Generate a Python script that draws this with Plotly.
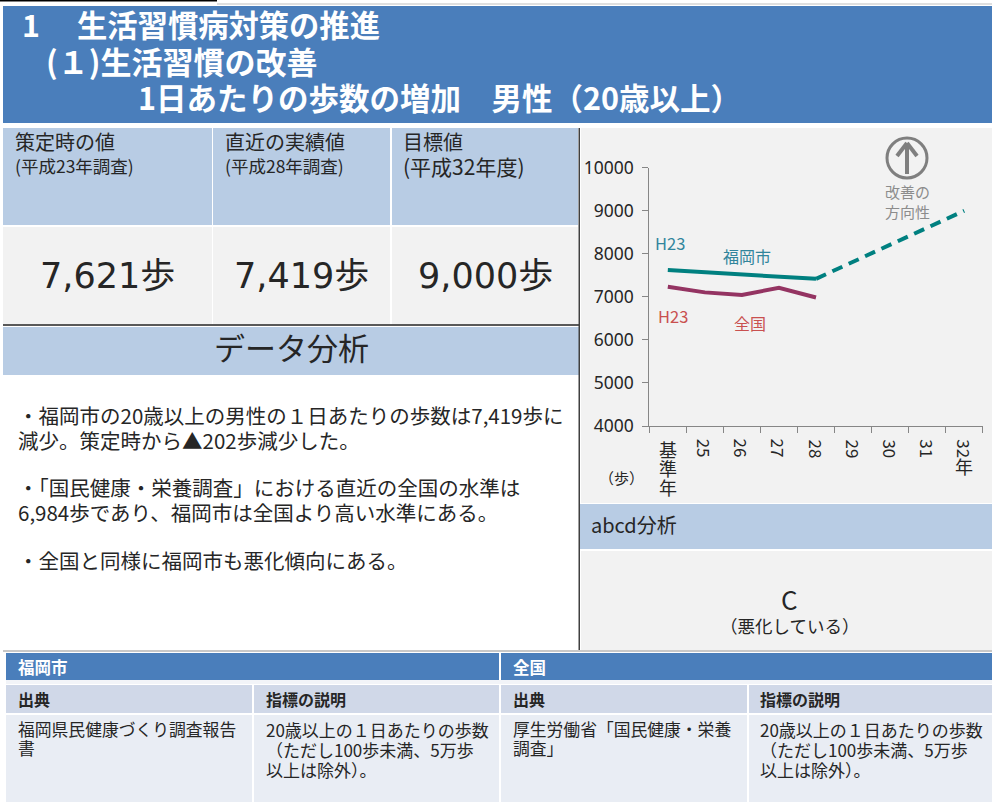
import plotly.graph_objects as go

W, H = 992, 802
categories = ["基準年", "25", "26", "27", "28", "29", "30", "31", "32"]
fukuoka_actual = [7621, None, None, None, 7419]
fukuoka_target_x = ["28", "32"]
fukuoka_target = [7419, 9000]
national = [7235, 7104, 7042, 7212, 6984]
y_ticks = [4000, 5000, 6000, 7000, 8000, 9000, 10000]

JP = "Noto Sans CJK JP, Noto Sans, sans-serif"
BLUE = "#4A7EBB"
LIGHT = "#B8CCE4"
GREY = "#F2F2F2"
TH = "#D0D8E8"
TD = "#E9EDF4"

shapes = []
annotations = []


def rect(x0, y0, x1, y1, color):
    shapes.append(dict(type="rect", xref="paper", yref="paper", x0=x0 / W, x1=x1 / W,
                       y0=1 - y0 / H, y1=1 - y1 / H, fillcolor=color, line_width=0, layer="below"))


def line(x0, y0, x1, y1, color, width):
    shapes.append(dict(type="line", xref="paper", yref="paper", x0=x0 / W, x1=x1 / W,
                       y0=1 - y0 / H, y1=1 - y1 / H, line=dict(color=color, width=width)))


def text(x, y, s, size, color="#262626", anchor="left", family=JP, angle=0):
    annotations.append(dict(xref="paper", yref="paper", x=x / W, y=1 - y / H, text=s, showarrow=False,
                            xanchor=anchor, yanchor="middle", align=anchor, textangle=angle,
                            font=dict(size=size, color=color, family=family), borderpad=0, borderwidth=0))


# panels
rect(0, 0, 217, 1.5, "#000000")
rect(217, 3.5, 992, 4.5, "#BFBFBF")
rect(3, 6, 992, 123, BLUE)
for x0, x1 in [(3, 212), (213, 390), (392, 578)]:
    rect(x0, 128, x1, 225, LIGHT)
    rect(x0, 227, x1, 324, GREY)
rect(3, 324, 579, 326, "#595959")
rect(3, 327, 579, 375, LIGHT)
rect(581, 128, 992, 503, GREY)
rect(580, 504, 992, 549, LIGHT)
rect(581, 551, 992, 650, GREY)
rect(578.5, 128, 580, 650, "#404040")
rect(3, 650, 992, 652, "#C8C8C8")
rect(6, 653, 499, 680, BLUE)
rect(501, 653, 992, 680, BLUE)
rect(6, 680, 992, 684, "#F2F4F8")
for x0, x1 in [(6, 252), (254, 499), (501, 747), (749, 992)]:
    rect(x0, 685, x1, 713, TH)
    rect(x0, 715, x1, 802, TD)

# title
text(22, 24, "<b>1</b>", 30.3, "white")
text(77, 24, "<b>生活習慣病対策の推進</b>", 30.3, "white")
text(46, 61, "<b>(１)生活習慣の改善</b>", 31, "white")
text(138, 97, "<b>1日あたりの歩数の増加　男性（20歳以上）</b>", 30.5, "white")

# top cells
text(15, 142, "策定時の値", 20)
text(15, 165, "(平成23年調査)", 17.5)
text(225, 142, "直近の実績値", 20)
text(225, 165, "(平成28年調査)", 17.5)
text(403, 142, "目標値", 20)
text(403, 166, "(平成32年度)", 21)
BIG = "DejaVu Sans, Noto Sans CJK JP"
text(107, 276, "7,621歩", 35, "#262626", "center", BIG)
text(301, 276, "7,419歩", 35, "#262626", "center", BIG)
text(485, 276, "9,000歩", 35, "#262626", "center", BIG)
text(291, 346, "データ分析", 31, "#262626", "center")

# analysis
text(18, 415, "・福岡市の20歳以上の男性の１日あたりの歩数は7,419歩に", 20.5)
text(18, 440, "減少。策定時から▲202歩減少した。", 20.5)
text(18, 487, "・「国民健康・栄養調査」における直近の全国の水準は", 20.5)
text(18, 512, "6,984歩であり、福岡市は全国より高い水準にある。", 20.5)
text(18, 560, "・全国と同様に福岡市も悪化傾向にある。", 20.5)

# abcd
text(591, 524, "abcd分析", 20)
text(789, 598, "C", 26, "#262626", "center")
text(789, 625, "（悪化している）", 17.5, "#262626", "center")

# table
text(18, 667, "<b>福岡市</b>", 16.5, "white")
text(513, 667, "<b>全国</b>", 16.5, "white")
for x, s in [(18, "出典"), (266, "指標の説明"), (513, "出典"), (760, "指標の説明")]:
    text(x, 699, "<b>" + s + "</b>", 16)
text(18, 729, "福岡県民健康づくり調査報告", 16.8)
text(18, 748, "書", 16.8)
text(513, 729, "厚生労働省「国民健康・栄養", 16.8)
text(513, 748, "調査」", 16.8)
for x in (266, 760):
    text(x, 729, "20歳以上の１日あたりの歩数", 17)
    text(x, 749, "（ただし100歩未満、5万歩", 17)
    text(x, 769, "以上は除外）。", 17)

# direction icon
shapes.append(dict(type="circle", xref="paper", yref="paper", x0=887 / W, x1=927 / W,
                   y0=1 - 178 / H, y1=1 - 138 / H, line=dict(color="#7F7F7F", width=3)))
line(907, 174, 907, 143, "#7F7F7F", 4)
line(897, 156, 907, 143, "#7F7F7F", 4)
line(917, 156, 907, 143, "#7F7F7F", 4)
text(907, 191, "改善の", 15, "#8C8C8C", "center")
text(907, 211, "方向性", 15, "#8C8C8C", "center")

# chart labels
text(670, 243, "H23", 16.5, "#31859C", "center")
text(747, 256, "福岡市", 16, "#31859C", "center")
text(673, 316, "H23", 16.5, "#C9504F", "center")
text(750, 323, "全国", 16, "#C9504F", "center")
text(621, 478, "（歩）", 15, "#262626", "center")

# x tick labels (digits rotated, base label stacked); annotation x on a category axis is the serial position
for i, c in enumerate(categories):
    if c == "基準年":
        for j, ch in enumerate(c):
            annotations.append(dict(xref="x", yref="paper", x=i, y=1 - (449 + 19 * j) / H, text=ch,
                                    showarrow=False, xanchor="center", yanchor="middle",
                                    font=dict(size=18, color="#262626", family=JP)))
    else:
        annotations.append(dict(xref="x", yref="paper", x=i, y=1 - 437 / H, text=c, showarrow=False,
                                xanchor="center", yanchor="top", textangle=90,
                                font=dict(size=17, color="#262626", family=JP)))
annotations.append(dict(xref="x", yref="paper", x=len(categories) - 1, y=1 - 466 / H, text="年", showarrow=False,
                        xanchor="center", yanchor="middle",
                        font=dict(size=18, color="#262626", family=JP)))

fig = go.Figure()
fig.add_trace(go.Scatter(x=categories[:5], y=national, mode="lines",
                         line=dict(color="#943462", width=4), name="全国", hoverinfo="skip"))
fig.add_trace(go.Scatter(x=fukuoka_target_x, y=fukuoka_target, mode="lines",
                         line=dict(color="#008080", width=4, dash="11px,7px"), name="目標", hoverinfo="skip"))
fig.add_trace(go.Scatter(x=categories[:5], y=fukuoka_actual, mode="lines", connectgaps=True,
                         line=dict(color="#008080", width=4), name="福岡市", hoverinfo="skip"))

fig.update_layout(
    width=W, height=H, autosize=False, margin=dict(l=0, r=0, t=0, b=0, autoexpand=False), showlegend=False,
    paper_bgcolor="white", plot_bgcolor="rgba(0,0,0,0)", shapes=shapes, annotations=annotations,
    xaxis=dict(domain=[649.3 / W, 982.7 / W], type="category", categoryorder="array", categoryarray=categories,
               range=[-0.5, 8.5], tickson="boundaries", ticks="outside", ticklen=6, tickcolor="#868686",
               tickwidth=1.2, showticklabels=False, showline=True, linecolor="#868686", linewidth=1.2,
               showgrid=False, zeroline=False),
    yaxis=dict(domain=[1 - 426 / H, 1 - 167.7 / H], range=[4000, 10000], tickmode="array", tickvals=y_ticks,
               ticks="outside", ticklen=6, tickcolor="#868686", tickwidth=1.2, showline=True, linecolor="#868686",
               linewidth=1.2, showgrid=False, zeroline=False, tickfont=dict(size=17.5, color="#262626", family="Noto Sans"),
               ticklabelstandoff=5, tickformat="d"),
)
fig.write_html("out.html", config={"displayModeBar": False}, post_script="document.body.style.margin='0';window.dispatchEvent(new Event('resize'));")
